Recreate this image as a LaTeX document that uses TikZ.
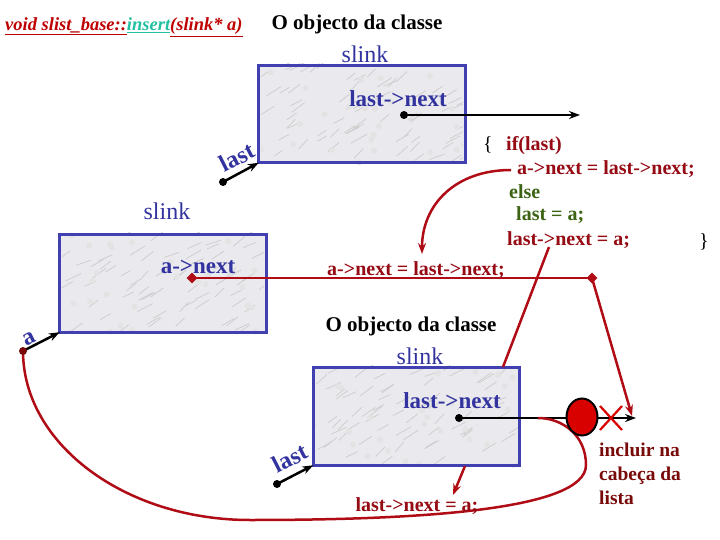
\documentclass[tikz,border=0pt]{standalone}
\usepackage{fontspec}
\setmainfont{Liberation Serif}
\usetikzlibrary{arrows.meta,shapes.geometric}
\definecolor{bl}{RGB}{51,51,160}
\definecolor{bx}{RGB}{64,64,176}
\definecolor{dr}{RGB}{175,12,22}
\definecolor{tr}{RGB}{150,10,20}
\definecolor{br}{RGB}{120,10,10}
\definecolor{gr}{RGB}{60,100,20}
\definecolor{tl}{RGB}{32,192,160}
\definecolor{hd}{RGB}{190,0,0}
\definecolor{marble}{RGB}{234,234,238}
\begin{document}
\begin{tikzpicture}[x=1pt,y=-1pt,
  box/.style={fill=marble,draw=none,minimum width=206pt,minimum height=97pt,inner sep=0pt},
  frame/.style={draw=bx,line width=3pt},
  boxlbl/.style={text=bl,font=\bfseries\fontsize{23}{26}\selectfont,inner sep=0pt},
  cls/.style={font=\bfseries\fontsize{20}{24}\selectfont,inner sep=0pt},
  slk/.style={text=bl,font=\fontsize{24}{28}\selectfont,inner sep=0pt},
  code/.style={font=\bfseries\fontsize{20}{24}\selectfont,inner sep=0pt,anchor=west},
  ptr/.style={draw=black,line width=2.5pt,-{Stealth[length=11pt,width=8pt]}},
  rline/.style={draw=dr,line width=2.5pt},
  rarrow/.style={draw=dr,line width=2.5pt,-{Stealth[length=11pt,width=8pt]}},
  rdia/.style={diamond,fill=dr,minimum size=11pt,inner sep=0pt},
  rot/.style={text=bl,font=\bfseries\fontsize{24}{26}\selectfont,inner sep=0pt,rotate=27}
]
\useasboundingbox (0,0) rectangle (720,540);
\pgfmathsetseed{7}

% header
\node[anchor=west,inner sep=0pt,font=\bfseries\itshape\fontsize{18.5}{22}\selectfont] (hdr) at (5,27)
  {\textcolor{hd}{\underline{void slist\_base::}}\textcolor{tl}{\underline{insert}}\textcolor{hd}{\underline{(slink* a)}}};

% boxes
\node[box] (b1) at (362,114) {};
\node[box] (b2) at (163,283.5) {};
\node[box] (b3) at (416.5,416.5) {};
\foreach \b in {b1,b2,b3}{
  \begin{scope}
    \clip ([shift={(2,-2)}]\b.north west) rectangle ([shift={(-2,2)}]\b.south east);
    \foreach \i in {1,...,70}{
      \draw[gray!40,line width=0.7pt,shift={(\b.north west)}] ({rnd*210},{rnd*100}) -- ++({8+rnd*8},{-5-rnd*5});
    }
    \foreach \i in {1,...,25}{
      \fill[gray!22,shift={(\b.north west)}] ({rnd*206},{rnd*97}) circle (3pt);
    }
  \end{scope}
  \draw[frame] (\b.north west) rectangle (\b.south east);
}

% titles
\node[cls,font=\bfseries\fontsize{21}{24}\selectfont] (t1) at (357,24) {O objecto da classe};
\node[slk] (s1) at (365,54) {slink};
\node[slk] (s2) at (167,211) {slink};
\node[cls,font=\bfseries\fontsize{21}{24}\selectfont] (t3) at (411,326) {O objecto da classe};
\node[slk] (s3) at (420,356) {slink};

% box labels
\node[boxlbl] (l1) at (398,99) {last->next};
\node[boxlbl] (l2) at (198,267) {a->next};
\node[boxlbl] (l3) at (452,401) {last->next};

% box 1 pointer
\coordinate (d1) at (404,115);
\coordinate (e1) at (580,115);
\draw[ptr] (d1) -- (e1);
\fill[black] (d1) circle (4pt);

% last pointers
\coordinate (dl1) at (223,182);
\draw[ptr] (dl1) -- (b1.south west);
\fill[black] (dl1) circle (4pt);
\node[rot] (lt1) at (237,157) {last};
\coordinate (dl3) at (277,484);
\draw[ptr] (dl3) -- (b3.south west);
\fill[black] (dl3) circle (4pt);
\node[rot] (lt3) at (290,458) {last};
\coordinate (da) at (23,351);
\draw[ptr] (da) -- (b2.south west);
\node[rot] (la) at (29,339) {a};

% code
\node[font=\fontsize{20}{24}\selectfont,inner sep=0pt] (ob) at (488,145) {\{};
\node[code,text=tr] (c1) at (506,146) {if(last)};
\node[code,text=tr] (c2) at (517,169) {a->next = last->next;};
\node[code,text=gr] (c3) at (509,192) {else};
\node[code,text=gr] (c4) at (516,215) {last = a;};
\node[code,text=tr] (c5) at (507,240) {last->next = a;};
\node[font=\fontsize{20}{24}\selectfont,inner sep=0pt] (cb) at (704,242) {\}};

% red curve from code to a->next statement
\coordinate (k1) at (511,170);
\coordinate (k2) at (422,254);
\draw[rarrow] (k1) .. controls (455,170) and (422,205) .. (k2);
\node[code,text=tr] (m1) at (327,270) {a->next = last->next;};

% a->next line
\node[rdia] (q1) at (192,278) {};
\node[rdia] (q2) at (592,278) {};
\draw[rline] (q1.center) -- (q2.center);
\coordinate (q3) at (632,416);
\draw[rarrow] (q2.center) -- (q3);

% line from last->next = a to box3
\coordinate (p1) at (549,247);
\coordinate (p2) at (503,367);
\draw[rline] (p1) -- (p2);

% box3 pointer
\coordinate (d3) at (459,418);
\coordinate (e3) at (636,418);
\draw[ptr] (d3) -- (e3);
\fill[black] (d3) circle (4pt);

% big red curve
\coordinate (r0) at (538,418);
\draw[rline] (r0) .. controls (562,418) and (586,435) .. (586,465)
  .. controls (586,510) and (420,520) .. (250,520)
  .. controls (125,520) and (23,444) .. (da);
\fill[br] (da) circle (4pt);

% circle and cross
\node[ellipse,fill=red!85!black,draw=black,line width=2pt,minimum width=31pt,minimum height=37pt,inner sep=0pt] (ci) at (582,417) {};
\coordinate (xc) at (611,418);
\draw[draw=red!85!black,line width=2.2pt] ([shift={(-11,-12)}]xc) -- ([shift={(11,12)}]xc);
\draw[draw=red!85!black,line width=2.2pt] ([shift={(-11,12)}]xc) -- ([shift={(11,-12)}]xc);

% short arrow below box3
\coordinate (sa) at (465,466);
\coordinate (sb) at (453,495);
\draw[rarrow] (sa) -- (sb);
\node[cls,text=tr] (m2) at (417,506) {last->next = a;};

% incluir na cabeca da lista
\node[anchor=north west,inner sep=0pt,text=br,align=left,font=\bfseries\fontsize{19.5}{24}\selectfont] (inc) at (599,443) {incluir na\\cabeça da\\lista};
\end{tikzpicture}
\end{document}
